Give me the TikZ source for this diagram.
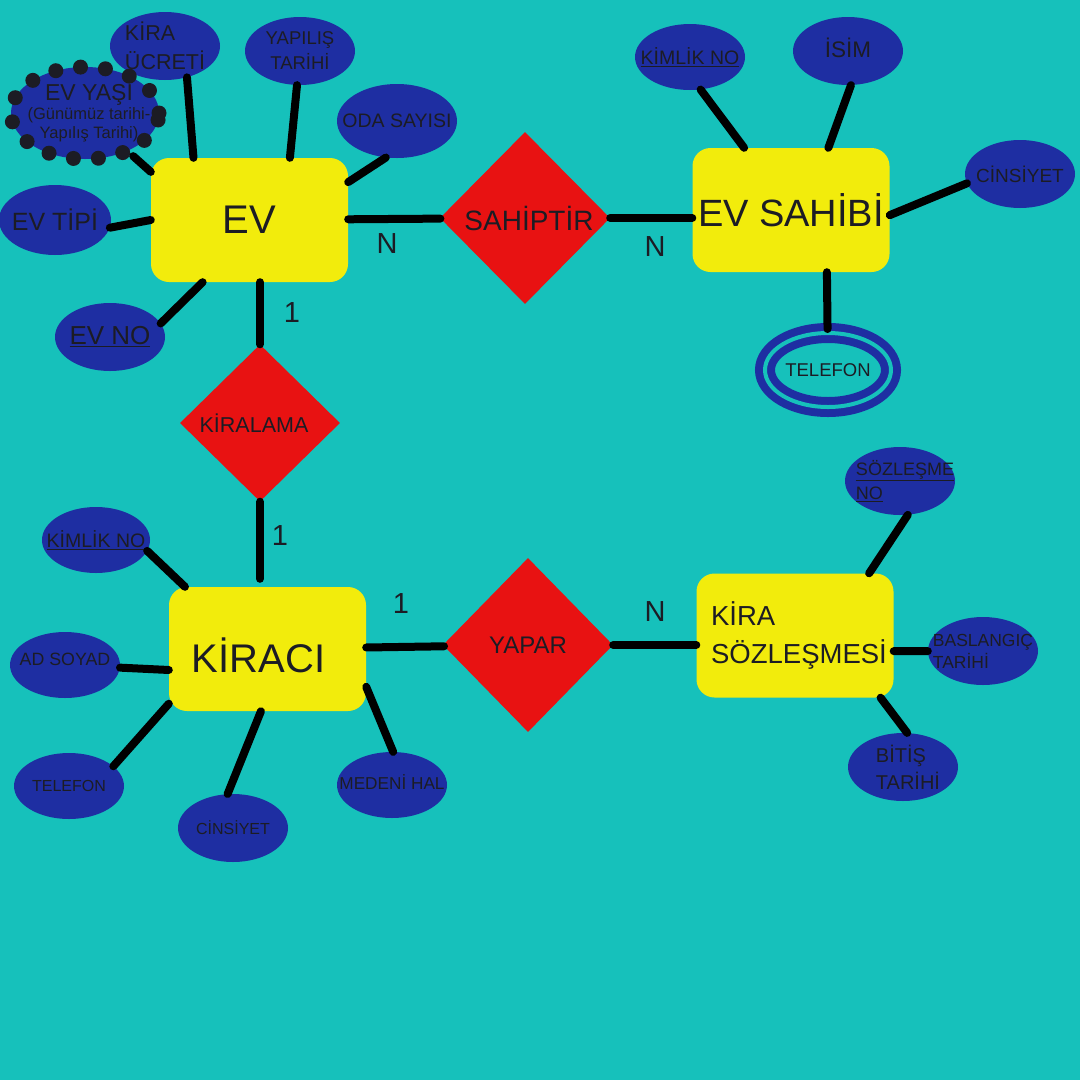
\documentclass[tikz,border=0pt]{standalone}
\usepackage{fontspec}
\setmainfont{Liberation Sans}
\usepackage{xcolor}
\usepackage{tikz}
\usetikzlibrary{shapes.geometric}

\definecolor{bgteal}{RGB}{22,193,187}
\definecolor{entyellow}{RGB}{242,236,12}
\definecolor{relred}{RGB}{232,18,18}
\definecolor{attrblue}{RGB}{30,46,162}
\definecolor{inkdark}{RGB}{28,28,36}
\newcommand{\erfont}[2]{\fontsize{#1pt}{#2pt}\selectfont}

\begin{document}
\begin{tikzpicture}[x=1pt, y=-1pt,
  entity/.style={rectangle, rounded corners=18pt, fill=entyellow, minimum width=197pt, minimum height=124pt, inner sep=0pt, text=inkdark},
  relation/.style={diamond, fill=relred, minimum width=170pt, minimum height=172pt, inner sep=1pt, text=inkdark},
  attr/.style={ellipse, fill=attrblue, minimum width=110pt, minimum height=68pt, inner sep=0pt},
  attrtxt/.style={text=inkdark, align=center, inner sep=0pt},
  link/.style={line width=8pt, line cap=round, black},
  card/.style={text=inkdark, inner sep=0pt, font=\erfont{29}{29}}]

  % Background (fixes the page size)
  \useasboundingbox (0,0) rectangle (1080,1080);
  \fill[bgteal] (-3,-3) rectangle (1083,1083);

  % --- Entities ---
  \node[entity, font=\erfont{40}{40}] (ev) at (249.5,220) {EV};
  \node[entity, font=\erfont{38}{38}] (evsahibi) at (791,210) {EV SAHİBİ};
  \node[entity, label={[text=inkdark, font=\erfont{40}{40}, xshift=-9pt, yshift=-6pt]center:KİRACI}] (kiraci) at (267.5,649) {};
  \node[entity, label={[text=inkdark, align=left, font=\erfont{27.5}{38}, xshift=4pt]center:KİRA\\SÖZLEŞMESİ}] (sozlesme) at (795,635.5) {};

  % --- Relationships ---
  \node[relation, font=\erfont{28}{28}] (sahiptir) at (525,218) {\hspace*{8pt}SAHİPTİR};
  \node[relation, minimum width=160pt, minimum height=157pt, font=\erfont{21.5}{21.5}] (kiralama) at (260,423) {KİRALAMA\hspace*{12pt}};
  \node[relation, minimum height=174pt, font=\erfont{24}{24}] (yapar) at (528,645) {YAPAR};

  % --- Attributes of EV ---
  \node[attr, label={[attrtxt, align=left, font=\erfont{21.5}{29}]center:KİRA\\ÜCRETİ}] (kiraucreti) at (165,46) {};
  \node[attr, label={[attrtxt, font=\erfont{18.5}{25}]center:YAPILIŞ\\TARİHİ}] (yapilis) at (300,51) {};
  \node[attr, minimum width=120pt, minimum height=74pt, label={[attrtxt, font=\erfont{19.5}{19.5}]center:ODA SAYISI}] (odasayisi) at (397,121) {};
  \node[attr, minimum width=148pt, minimum height=92pt, draw=inkdark, line width=15pt, line cap=round, dash pattern=on 0pt off 25pt,
        label={[attrtxt, font=\erfont{16.5}{19}, xshift=4pt]center:{\erfont{23}{24}EV YAŞI}\\(Günümüz tarihi-\\Yapılış Tarihi)}] (evyasi) at (85,113) {};
  \node[attr, minimum width=112pt, minimum height=70pt, label={[attrtxt, font=\erfont{25}{25}]center:EV TİPİ}] (evtipi) at (55,220) {};
  \node[attr, label={[attrtxt, font=\erfont{26}{26}]center:\underline{EV NO}}] (evno) at (110,337) {};

  % --- Attributes of EV SAHIBI ---
  \node[attr, minimum height=66pt, label={[attrtxt, font=\erfont{19.5}{19.5}]center:\underline{KİMLİK NO}}] (kimlikno1) at (690,57) {};
  \node[attr, label={[attrtxt, font=\erfont{22.5}{22.5}, yshift=3pt]center:İSİM}] (isim) at (848,51) {};
  \node[attr, label={[attrtxt, font=\erfont{19}{19}]center:CİNSİYET}] (cinsiyet1) at (1020,174) {};
  % multivalued: double ring
  \node[attr, fill=none, draw=attrblue, line width=8pt, double=bgteal, double distance=4pt, minimum width=126pt, minimum height=74pt,
        label={[attrtxt, font=\erfont{18.5}{18.5}]center:TELEFON}] (telefon1) at (828,370) {};

  % --- Attributes of KIRA SOZLESMESI ---
  \node[attr, label={[attrtxt, align=left, font=\erfont{18}{24}, xshift=5pt]center:\underline{SÖZLEŞME}\\\underline{NO}}] (sozlesmeno) at (900,481) {};
  \node[attr, label={[attrtxt, align=left, font=\erfont{17.5}{22}]center:BASLANGIÇ\\TARİHİ}] (baslangic) at (983,651) {};
  \node[attr, label={[attrtxt, align=left, font=\erfont{20}{27}, xshift=5pt]center:BİTİŞ\\TARİHİ}] (bitis) at (903,767) {};

  % --- Attributes of KIRACI ---
  \node[attr, minimum width=108pt, minimum height=66pt, label={[attrtxt, font=\erfont{19.5}{19.5}]center:\underline{KİMLİK NO}}] (kimlikno2) at (96,540) {};
  \node[attr, minimum height=66pt, label={[attrtxt, font=\erfont{17.8}{17.8}, yshift=6pt]center:AD SOYAD}] (adsoyad) at (65,665) {};
  \node[attr, minimum height=66pt, label={[attrtxt, font=\erfont{16}{16}]center:TELEFON}] (telefon2) at (69,786) {};
  \node[attr, label={[attrtxt, font=\erfont{16}{16}]center:CİNSİYET}] (cinsiyet2) at (233,828) {};
  \node[attr, minimum height=66pt, label={[attrtxt, font=\erfont{17.2}{17.2}, yshift=3pt]center:MEDENİ HAL}] (medenihal) at (392,785) {};

  % --- Connectors ---
  \foreach \a/\ang in {kiraucreti.-55/132, yapilis.-95/57, odasayisi.-107/21, evyasi/154, evtipi.-8/180, evno.15/233}
    \draw[link] (\a) -- (ev.\ang);
  \foreach \a/\ang in {kimlikno1.-72/127, isim.-85/59, cinsiyet1.190/-3, telefon1/-60}
    \draw[link] (\a) -- (evsahibi.\ang);
  \foreach \a/\ang in {kimlikno2.-12/143, adsoyad/192, telefon2.24/209, cinsiyet2.99/264, medenihal.88/339}
    \draw[link] (\a) -- (kiraci.\ang);
  \foreach \a/\ang in {sozlesmeno.-77/40, baslangic/-9, bitis.83/-36}
    \draw[link] (\a) -- (sozlesme.\ang);

  \draw[link] (ev) -- (sahiptir);
  \draw[link] (sahiptir.east) -- (sahiptir.east -| evsahibi.west);
  \draw[link] (kiralama.north) -- (kiralama.north |- ev.south);
  \draw[link] (kiralama.south) -- ([yshift=8pt]kiralama.south |- kiraci.north);
  \draw[link] (kiraci) -- (yapar);
  \draw[link] (yapar.east) -- (yapar.east -| sozlesme.west);

  % Cardinalities
  \node[card] (c1) at (387,244) {N};
  \node[card] (c2) at (655,247) {N};
  \node[card] (c3) at (292,313) {1};
  \node[card] (c4) at (280,536) {1};
  \node[card] (c5) at (401,604) {1};
  \node[card] (c6) at (655,612) {N};
\end{tikzpicture}
\end{document}
